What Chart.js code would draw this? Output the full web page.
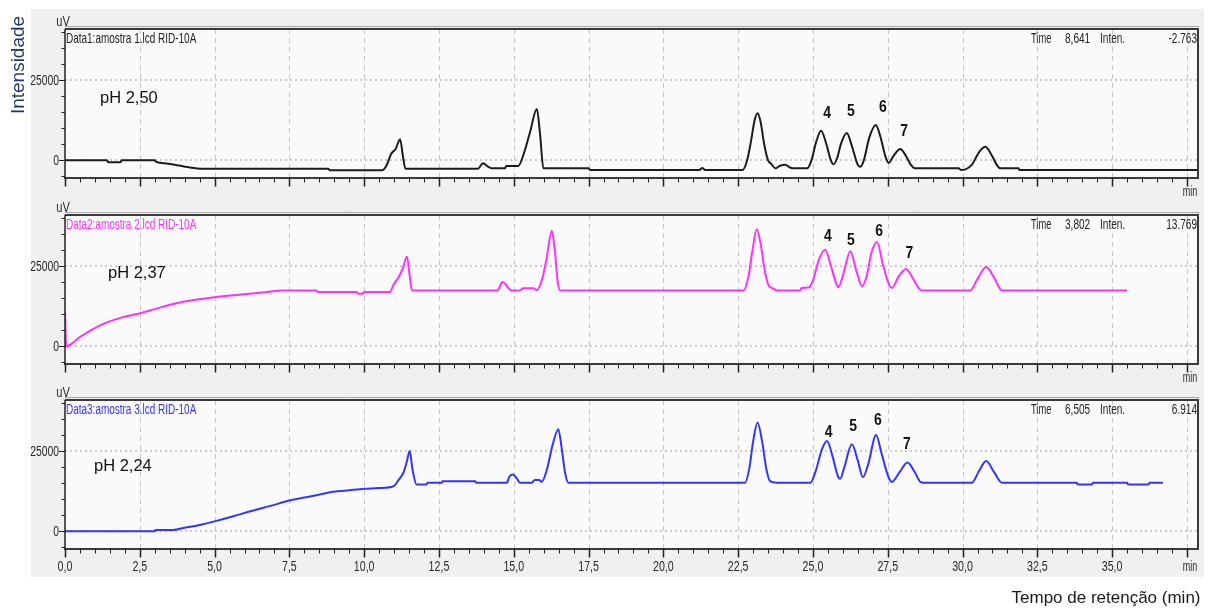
<!DOCTYPE html>
<html>
<head>
<meta charset="utf-8">
<script src="https://cdn.jsdelivr.net/npm/chart.js@4.4.1/dist/chart.umd.min.js"></script>
<style>
  html, body { margin: 0; padding: 0; background: #ffffff; }
  body { width: 1211px; height: 610px; position: relative; overflow: hidden; }
  #frame { position: absolute; left: 31px; top: 9px; width: 1173px; height: 568px; background: #f0f0f0; }
  .panel { position: absolute; left: 0; width: 1211px; height: 200px; }
  #page { position: absolute; left: 0; top: 0; pointer-events: none; }
</style>
</head>
<body>
<div id="frame"></div>
<canvas id="c1" class="panel" width="1211" height="200" style="top:9px"></canvas>
<canvas id="c2" class="panel" width="1211" height="200" style="top:195px"></canvas>
<canvas id="c3" class="panel" width="1211" height="200" style="top:380px"></canvas>
<canvas id="page" width="1211" height="610"></canvas>
<script>
// ---- Axis ticks and labels -------------------------------------------------
const timeTicks = [0, 2.5, 5, 7.5, 10, 12.5, 15, 17.5, 20, 22.5, 25, 27.5, 30, 32.5, 35, 37.5];
const timeTickLabels = ['0,0', '2,5', '5,0', '7,5', '10,0', '12,5', '15,0', '17,5', '20,0',
                        '22,5', '25,0', '27,5', '30,0', '32,5', '35,0', 'min'];
const intensityTicks = [0, 25000];
const intensityTickLabels = ['0', '25000'];
const peakNames = ['4', '5', '6', '7'];

// ---- Sample 1 (pH 2,50): retention time (min) / signal (uV) ----------------
const time1 = [0, 1.4, 1.45, 1.85, 1.9, 3.0, 3.05, 3.4, 3.75, 4.1, 4.6, 8.8, 8.85, 10.6,
  10.75, 10.9, 11.05, 11.2, 11.3, 11.38, 13.8, 13.97, 14.15, 14.27, 14.7, 14.75, 15.15,
  15.35, 15.55, 15.77, 15.88, 15.99, 17.5, 17.55, 21.2, 21.3, 21.4, 22.65, 22.8, 22.93,
  23.05, 23.15, 23.25, 23.37, 23.5, 23.6, 23.74, 23.9, 24.07, 24.25, 24.45, 24.8, 24.95,
  25.1, 25.27, 25.45, 25.6, 25.69, 25.8, 25.95, 26.13, 26.3, 26.48, 26.58, 26.7, 26.88,
  27.1, 27.25, 27.43, 27.53, 27.7, 27.92, 28.1, 28.28, 28.42, 29.87, 29.95, 30.1, 30.3,
  30.55, 30.76, 30.95, 31.15, 31.26, 31.87, 31.9, 37.87];
const signal1 = [0, 0, -600, -600, 0, 0, -500, -1000, -1500, -2100, -2600, -2600, -3100, -3100,
  -1500, 2000, 3500, 6600, 1000, -2600, -2600, -900, -2000, -2500, -2500, -1800, -1800,
  2500, 9000, 16000, 8000, -2500, -2500, -3000, -3000, -2400, -3000, -3000, 0, 6000,
  12500, 14700, 12000, 5000, 0, -1000, -2500, -1700, -1400, -2300, -2500, -2500, 0,
  5500, 9200, 5000, 0, -1250, 500, 5500, 8500, 4500, -1000, -2000, 0, 7000,
  11000, 7500, 1000, -800, 1500, 3500, 1500, -1500, -2500, -2500, -3000, -2800, -1500,
  2500, 4200, 2000, -1500, -2500, -2500, -3000, -3000];

// ---- Sample 2 (pH 2,37) ------------------------------------------------------
const time2 = [0, 0.04, 0.5, 1.17, 1.8, 2.54, 3.0, 3.62, 4.3, 5.0, 5.96, 6.6, 7.3, 8.4, 8.45,
  9.75, 9.8, 9.95, 10.0, 10.85, 11.0, 11.15, 11.3, 11.43, 11.52, 11.6, 14.45, 14.62, 14.93,
  15.2, 15.32, 15.66, 15.77, 15.95, 16.1, 16.27, 16.38, 16.47, 16.55, 22.68, 22.85, 22.98,
  23.12, 23.25, 23.4, 23.55, 23.63, 23.8, 24.57, 24.62, 24.85, 25.0, 25.2, 25.41, 25.6,
  25.78, 25.85, 26.0, 26.25, 26.45, 26.64, 26.8, 26.95, 27.14, 27.35, 27.55, 27.64, 27.85,
  28.11, 28.35, 28.55, 28.64, 30.26, 30.5, 30.79, 31.05, 31.32, 35.5];
const signal2 = [11000, 0, 2900, 6500, 8700, 10400, 11600, 13200, 14400, 15300, 16200, 16800, 17400, 17400, 16900,
  16900, 16400, 16400, 16900, 16900, 19500, 21500, 24500, 28000, 22000, 17400, 17400, 20000, 17400,
  17400, 18100, 18100, 17500, 21000, 27500, 36000, 29000, 20000, 17400, 17400, 22000, 30000,
  36500, 32000, 23000, 18500, 18200, 17400, 17400, 18200, 18300, 20500, 27000, 30100, 25000,
  19500, 18400, 22000, 29600, 23500, 18700, 22000, 29000, 32500, 25000, 19000, 18200, 21500,
  24100, 21000, 18000, 17400, 17400, 21000, 24700, 21500, 17400, 17400];

// ---- Sample 3 (pH 2,24) ------------------------------------------------------
const time3 = [0, 3.0, 3.02, 3.62, 3.96, 4.5, 5.0, 5.6, 6.2, 6.9, 7.5, 8.4, 8.97, 9.5, 10.0,
  10.5, 10.98, 11.15, 11.31, 11.42, 11.52, 11.62, 11.75, 12.09, 12.12, 12.59, 12.62, 13.71,
  13.74, 14.77, 14.85, 14.97, 15.1, 15.21, 15.6, 15.7, 15.85, 15.93, 16.1, 16.3, 16.49,
  16.6, 16.72, 16.83, 22.73, 22.88, 23.0, 23.15, 23.3, 23.45, 23.57, 23.9, 24.91, 25.1,
  25.3, 25.47, 25.65, 25.84, 25.91, 26.05, 26.3, 26.5, 26.67, 26.85, 27.11, 27.3, 27.52,
  27.64, 27.9, 28.16, 28.4, 28.6, 28.7, 30.31, 30.55, 30.79, 31.05, 31.32, 33.82, 33.85,
  34.33, 34.36, 35.5, 35.53, 36.22, 36.25, 36.7];
const signal3 = [0, 0, 440, 440, 1040, 2000, 3100, 4600, 6250, 8000, 9600, 11250, 12300, 12800, 13250,
  13500, 14060, 16000, 18250, 21500, 25000, 19000, 14600, 14600, 15100, 15100, 15600, 15600,
  15100, 15100, 17000, 17700, 16500, 15100, 15100, 16000, 16000, 15400, 19000, 27000, 31800,
  26000, 18000, 15100, 15100, 20000, 28000, 33900, 28000, 19000, 15600, 15100, 15100, 19000,
  25500, 28100, 23500, 17000, 16400, 20000, 27100, 22000, 16900, 21000, 30000, 24000, 17000,
  15400, 18500, 21400, 18500, 15300, 15100, 15100, 18800, 21900, 18500, 15100, 15100, 14600,
  14600, 15100, 15100, 14600, 14600, 15100, 15100];

// ---- Peak number anchors (time, signal) ---------------------------------------
const peakLabelTime1 = [25.47, 26.27, 27.34, 28.05];
const peakLabelSignal1 = [14780, 15190, 16560, 8940];
const peakLabelTime2 = [25.5, 26.27, 27.21, 28.22];
const peakLabelSignal2 = [34380, 33030, 35840, 29060];
const peakLabelTime3 = [25.52, 26.34, 27.17, 28.14];
const peakLabelSignal3 = [30750, 32810, 34690, 27090];

// ---- Panel descriptions ------------------------------------------------------
const panels = [
  { id: 'c1', top: 9, time: time1, signal: signal1, color: '#1c1c1c',
    header: 'Data1:amostra 1.lcd RID-10A', headerColor: '#222222',
    cursorTime: '8,641', cursorInten: '-2.763', ph: 'pH 2,50', phX: 100, phY: 102.5,
    peakT: peakLabelTime1, peakV: peakLabelSignal1, timeLabels: false },
  { id: 'c2', top: 195, time: time2, signal: signal2, color: '#ff30ff',
    header: 'Data2:amostra 2.lcd RID-10A', headerColor: '#ff30ff',
    cursorTime: '3,802', cursorInten: '13.769', ph: 'pH 2,37', phX: 108, phY: 278,
    peakT: peakLabelTime2, peakV: peakLabelSignal2, timeLabels: false },
  { id: 'c3', top: 380, time: time3, signal: signal3, color: '#3434ff',
    header: 'Data3:amostra 3.lcd RID-10A', headerColor: '#3434ff',
    cursorTime: '6,505', cursorInten: '6.914', ph: 'pH 2,24', phX: 94, phY: 470.5,
    peakT: peakLabelTime3, peakV: peakLabelSignal3, timeLabels: true }
];

const FONT = "'Liberation Sans', Arial, sans-serif";

// Draws text horizontally condensed by sx around its anchor point.
function txt(ctx, s, x, y, font, color, align, sx, baseline) {
  ctx.save();
  ctx.translate(x, y);
  ctx.scale(sx, 1);
  ctx.font = font;
  ctx.fillStyle = color;
  ctx.textAlign = align;
  ctx.textBaseline = baseline || 'alphabetic';
  ctx.fillText(s, 0, 0);
  ctx.restore();
}

function line(ctx, x1, y1, x2, y2) {
  ctx.beginPath(); ctx.moveTo(x1, y1); ctx.lineTo(x2, y2); ctx.stroke();
}

function makeFramePlugin(p) {
  return {
    id: 'chromFrame_' + p.id,
    beforeDraw(chart) {
      const { ctx, chartArea: a } = chart;
      ctx.save();
      ctx.fillStyle = '#fafafa';
      ctx.fillRect(a.left, a.top, a.right - a.left, a.bottom - a.top);
      ctx.restore();
    },
    beforeDatasetsDraw(chart) {
      const { ctx, chartArea: a, scales: { x, y } } = chart;
      ctx.save();
      // vertical dashed grid at labelled times
      ctx.strokeStyle = '#c6c6c6';
      ctx.lineWidth = 1;
      ctx.setLineDash([5, 4]);
      timeTicks.forEach(t => {
        if (t === 0) return;
        const px = Math.round(x.getPixelForValue(t)) + 0.5;
        line(ctx, px, a.top, px, a.bottom);
      });
      // horizontal dotted grid at labelled intensities
      ctx.strokeStyle = '#bdbdbd';
      ctx.lineWidth = 1.5;
      ctx.setLineDash([2, 3]);
      intensityTicks.forEach(v => {
        const py = Math.round(y.getPixelForValue(v));
        line(ctx, a.left, py, a.right, py);
      });
      ctx.restore();
    },
    afterDatasetsDraw(chart) {
      const { ctx, chartArea: a, scales: { x, y } } = chart;
      ctx.save();
      ctx.setLineDash([]);
      // frame
      ctx.strokeStyle = '#a8a8a8';
      ctx.lineWidth = 1;
      line(ctx, a.left, a.top - 2.5, a.right + 1, a.top - 2.5);
      ctx.strokeStyle = '#3a3a3a';
      ctx.lineWidth = 2;
      line(ctx, a.left, a.top, a.right + 1, a.top);
      line(ctx, a.right, a.top, a.right, a.bottom);
      line(ctx, a.left - 1, a.bottom, a.right + 1, a.bottom);
      ctx.strokeStyle = '#222222';
      ctx.lineWidth = 1.5;
      line(ctx, a.left, a.top, a.left, a.bottom);

      // intensity tick marks (minor every 5000)
      ctx.lineWidth = 1;
      for (let v = -5000; v <= 40000; v += 5000) {
        const py = Math.round(y.getPixelForValue(v)) + 0.5;
        const len = intensityTicks.includes(v) ? 6 : 3.5;
        line(ctx, a.left - len, py, a.left, py);
      }
      // time tick marks (minor every 0.5 min)
      for (let k = 0; k <= 75; k++) {
        const t = k * 0.5;
        const px = Math.round(x.getPixelForValue(t)) + 0.5;
        const major = k % 5 === 0;
        ctx.lineWidth = major ? 1.5 : 1;
        line(ctx, px, a.bottom, px, a.bottom + (major ? 8.5 : 4.5));
      }

      // intensity tick labels
      intensityTicks.forEach((v, i) => {
        txt(ctx, intensityTickLabels[i], a.left - 6, y.getPixelForValue(v) + 1,
            '14px ' + FONT, '#2a2a2a', 'right', 0.74, 'middle');
      });
      // time tick labels
      timeTicks.forEach((t, i) => {
        const lab = timeTickLabels[i];
        if (!p.timeLabels && lab !== 'min') return;
        const px = x.getPixelForValue(t) + (lab === 'min' ? 3 : 0);
        const by = a.bottom + (p.timeLabels ? 21.5 : 18);
        txt(ctx, lab, px, by, '14px ' + FONT, '#2a2a2a', 'center', lab === 'min' ? 0.64 : 0.76);
      });

      // unit above the intensity axis
      txt(ctx, 'uV', a.left - 2, a.top - 3, '15px ' + FONT, '#2a2a2a', 'center', 0.74);

      // data file header and cursor read-out
      const hb = a.top + 13.5;
      const hf = '15px ' + FONT;
      txt(ctx, p.header, a.left + 1, hb, hf, p.headerColor, 'left', 0.665);
      txt(ctx, 'Time', 1031, hb, hf, '#222222', 'left', 0.62);
      txt(ctx, p.cursorTime, 1065, hb, hf, '#222222', 'left', 0.67);
      txt(ctx, 'Inten.', 1100, hb, hf, '#222222', 'left', 0.67);
      txt(ctx, p.cursorInten, 1197, hb, hf, '#222222', 'right', 0.67);

      // sample pH
      txt(ctx, p.ph, p.phX, p.phY - p.top, '16.5px ' + FONT, '#111111', 'left', 1);

      // peak numbers
      peakNames.forEach((name, i) => {
        txt(ctx, name, x.getPixelForValue(p.peakT[i]), y.getPixelForValue(p.peakV[i]),
            'bold 17px ' + FONT, '#111111', 'center', 0.82, 'middle');
      });
      ctx.restore();
    }
  };
}

panels.forEach(p => {
  new Chart(document.getElementById(p.id), {
    type: 'line',
    data: {
      datasets: [{
        data: p.time.map((t, i) => ({ x: t, y: p.signal[i] })),
        borderColor: p.color,
        borderWidth: 2,
        pointRadius: 0,
        fill: false,
        cubicInterpolationMode: 'monotone'
      }]
    },
    options: {
      responsive: false,
      animation: false,
      devicePixelRatio: 1,
      layout: { padding: { left: 0, right: 13, top: 20, bottom: 0 } },
      plugins: { legend: { display: false }, tooltip: { enabled: false } },
      scales: {
        x: {
          type: 'linear', min: 0, max: 37.87,
          grid: { display: false }, border: { display: false },
          ticks: { display: false },
          afterFit: s => { s.height = 31; }
        },
        y: {
          type: 'linear', min: -5500, max: 40900,
          grid: { display: false }, border: { display: false },
          ticks: { display: false },
          afterFit: s => { s.width = 65; }
        }
      }
    },
    plugins: [makeFramePlugin(p)]
  });
});

// Axis titles for the whole figure
(function () {
  const ctx = document.getElementById('page').getContext('2d');
  ctx.save();
  ctx.translate(23.5, 65);
  ctx.rotate(-Math.PI / 2);
  ctx.font = '19px ' + FONT;
  ctx.fillStyle = '#1f3864';
  ctx.textAlign = 'center';
  ctx.textBaseline = 'alphabetic';
  ctx.fillText('Intensidade', 0, 0);
  ctx.restore();
  txt(ctx, 'Tempo de retenção (min)', 1200.5, 603, '17px ' + FONT, '#1a1a1a', 'right', 1);
})();
</script>
</body>
</html>
